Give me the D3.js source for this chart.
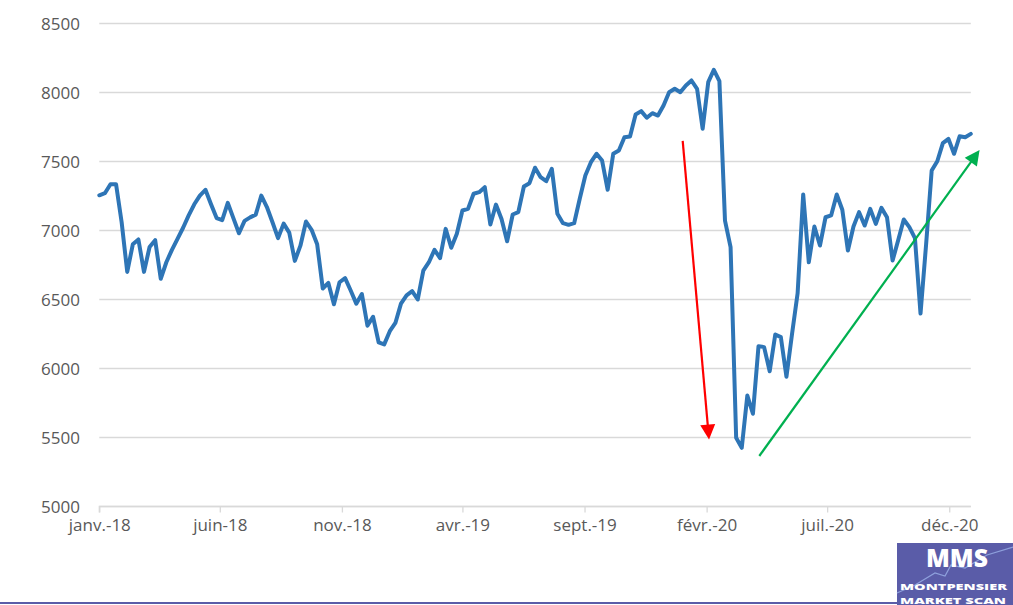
<!DOCTYPE html>
<html>
<head>
<meta charset="utf-8">
<script src="https://cdn.jsdelivr.net/npm/d3@7/dist/d3.min.js"></script>
<style>
  html, body { margin: 0; padding: 0; background: #ffffff; }
  svg { display: block; }
  text { font-family: "Open Sans", "Liberation Sans", sans-serif; }
</style>
</head>
<body>
<svg id="chart" width="1013" height="605"></svg>
<script>
// ---------- DATA ----------
const firstWeek = "2018-01-01";            // weekly observations
const lastAxisDate = "2020-12-28";
const values = [
  7255, 7270, 7335, 7335, 7060, 6700, 6900, 6935, 6700, 6880,
  6930, 6650, 6770, 6860, 6940, 7020, 7110, 7190, 7253, 7295,
  7190, 7090, 7075, 7200, 7090, 6980, 7070, 7095, 7115, 7253,
  7170, 7060, 6945, 7050, 6985, 6780, 6890, 7065, 7005, 6900,
  6580, 6620, 6465, 6625, 6655, 6565, 6470, 6540, 6310, 6375,
  6190, 6175, 6270, 6330, 6470, 6530, 6560, 6500, 6710, 6770,
  6860, 6800, 7012, 6875, 6976, 7145, 7157, 7266, 7278, 7314,
  7043, 7188, 7084, 6922, 7116, 7133, 7319, 7343, 7455, 7386,
  7357, 7447, 7121, 7053, 7041, 7053, 7230, 7399, 7495, 7556,
  7507, 7295, 7556, 7580, 7676, 7681, 7841, 7865, 7817, 7850,
  7833, 7906, 8002, 8027, 8002, 8051, 8087, 8027, 7737, 8075,
  8164, 8082, 7072, 6879, 5498, 5425, 5804, 5672, 6162, 6155,
  5980, 6246, 6227, 5940, 6250, 6545, 7261, 6770, 7029, 6891,
  7096, 7109, 7261, 7150, 6855, 7029, 7133, 7036, 7157, 7048,
  7164, 7096, 6782, 6930, 7080, 7024, 6945, 6398, 6900, 7435,
  7502, 7633, 7664, 7556, 7683, 7676, 7700
];
const yTicks = [5000, 5500, 6000, 6500, 7000, 7500, 8000, 8500];
const xTickDates = ["2018-01-01", "2018-06-01", "2018-11-01", "2019-04-01",
                    "2019-09-01", "2020-02-01", "2020-07-01", "2020-12-01"];
const xTickLabels = ["janv.-18", "juin-18", "nov.-18", "avr.-19",
                     "sept.-19", "févr.-20", "juil.-20", "déc.-20"];
// annotation arrows (data space: date, value)
const redArrow = [["2020-01-02", 7650], ["2020-02-04", 5485]];
const greenArrow = [["2020-04-07", 5366], ["2021-01-08", 7583]];

// ---------- CHART ----------
const parse = d3.utcParse("%Y-%m-%d");
const start = parse(firstWeek);
const series = values.map((v, i) => ({ date: d3.utcDay.offset(start, 7 * i), value: v }));

const svg = d3.select("#chart");
const plot = { left: 99.3, right: 970.8, top: 23.5, bottom: 506.5 };

const x = d3.scaleUtc().domain([start, parse(lastAxisDate)]).range([plot.left, plot.right]);
const y = d3.scaleLinear().domain([5000, 8500]).range([plot.bottom, plot.top]);

const gridColor = "#d9d9d9";
const textColor = "#595959";

// gridlines
svg.append("g").selectAll("line")
  .data(yTicks)
  .join("line")
  .attr("x1", plot.left).attr("x2", plot.right)
  .attr("y1", d => y(d)).attr("y2", d => y(d))
  .attr("stroke", gridColor).attr("stroke-width", 1.3);

// y labels
svg.append("g").selectAll("text")
  .data(yTicks)
  .join("text")
  .attr("x", 80).attr("y", d => y(d))
  .attr("dy", "0.36em")
  .attr("text-anchor", "end")
  .attr("font-size", 17)
  .attr("fill", textColor)
  .text(d => d);

// x axis
const xAxis = d3.axisBottom(x)
  .tickValues(xTickDates.map(parse))
  .tickSize(6)
  .tickFormat((d, i) => xTickLabels[i]);
const gx = svg.append("g").attr("transform", `translate(0,${plot.bottom})`).call(xAxis);
gx.select(".domain").attr("stroke", gridColor).attr("stroke-width", 1.3)
  .attr("d", `M${plot.left},6V0H${plot.right}`);
gx.selectAll(".tick line").attr("stroke", gridColor).attr("stroke-width", 1.3);
gx.selectAll(".tick text")
  .attr("font-family", "Open Sans, Liberation Sans, sans-serif")
  .attr("font-size", 17).attr("fill", textColor).attr("y", 12).attr("dy", "0.71em");

// data line
const line = d3.line().x(d => x(d.date)).y(d => y(d.value));
svg.append("path")
  .datum(series)
  .attr("d", line)
  .attr("fill", "none")
  .attr("stroke", "#2e75b6")
  .attr("stroke-width", 4)
  .attr("stroke-linejoin", "round")
  .attr("stroke-linecap", "round");

// arrows
function drawArrow(pts, color) {
  const p0 = [x(parse(pts[0][0])), y(pts[0][1])];
  const p1 = [x(parse(pts[1][0])), y(pts[1][1])];
  const dx = p1[0] - p0[0], dy = p1[1] - p0[1];
  const len = Math.hypot(dx, dy);
  const ux = dx / len, uy = dy / len;
  const headL = 15, headW = 15;
  const bx = p1[0] - ux * headL, by = p1[1] - uy * headL;
  svg.append("line")
    .attr("x1", p0[0]).attr("y1", p0[1]).attr("x2", bx + ux).attr("y2", by + uy)
    .attr("stroke", color).attr("stroke-width", 2.2);
  const nx = -uy, ny = ux;
  svg.append("path")
    .attr("d", `M${p1[0]},${p1[1]}L${bx + nx * headW / 2},${by + ny * headW / 2}L${bx - nx * headW / 2},${by - ny * headW / 2}Z`)
    .attr("fill", color);
}
drawArrow(redArrow, "#ff0000");
drawArrow(greenArrow, "#00b050");

// bottom rule and logo
const brand = "#5a5ca8";
svg.append("line").attr("x1", 0).attr("x2", 898).attr("y1", 603).attr("y2", 603)
  .attr("stroke", brand).attr("stroke-width", 2);
const logo = svg.append("g").attr("transform", "translate(897,543)");
logo.append("rect").attr("width", 116).attr("height", 62).attr("fill", brand);
logo.append("path")
  .attr("d", "M0,50 L18,42 L38,30 L48,33 L54,22 L68,25 L90,12 L116,4")
  .attr("fill", "none").attr("stroke", "#8ea0dc").attr("stroke-width", 1.2);
logo.append("text").attr("x", 60).attr("y", 24).attr("text-anchor", "middle")
  .attr("font-size", 24).attr("font-weight", 800).attr("fill", "#ffffff")
  .attr("textLength", 62).attr("lengthAdjust", "spacingAndGlyphs").text("MMS");
logo.append("text").attr("x", 3).attr("y", 47)
  .attr("font-size", 9.5).attr("font-weight", 800).attr("fill", "#ffffff")
  .attr("textLength", 107).attr("lengthAdjust", "spacingAndGlyphs").text("MONTPENSIER");
logo.append("text").attr("x", 3).attr("y", 60.5)
  .attr("font-size", 9.5).attr("font-weight", 800).attr("fill", "#ffffff")
  .attr("textLength", 106).attr("lengthAdjust", "spacingAndGlyphs").text("MARKET SCAN");
</script>
</body>
</html>
